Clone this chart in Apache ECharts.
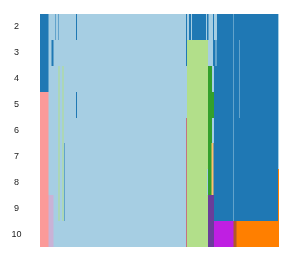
<!DOCTYPE html>
<html><head><meta charset="utf-8">
<script src="https://cdn.jsdelivr.net/npm/echarts@6/dist/echarts.min.js"></script>
<style>html,body{margin:0;padding:0;background:#fff}#c{width:300px;height:264px}</style>
</head><body><div id="c"></div>
<script>
// k values (rows) and number of ordered samples (columns)
const kLabels = ['2','3','4','5','6','7','8','9','10'];
const nSamples = 478;

// each row: consecutive runs of [class, endSample] (start = previous end)
const row2 = [[2,17],[1,31],[2,32],[1,36],[2,37],[1,72],[2,74],[1,292],[2,294],[1,298],[2,302],[1,304],[2,332],[1,334],[2,337],[1,346],[2,348],[1,354],[2,386],[1,387],[2,476],[1,478]];
const row3 = [[2,17],[1,23],[2,27],[1,292],[2,294],[3,336],[1,346],[2,351],[1,353],[2,386],[1,387],[2,398],[1,399],[2,476],[1,478]];
const row4 = [[2,17],[1,37],[3,39],[1,45],[3,47],[1,294],[3,336],[4,344],[1,348],[2,386],[1,387],[2,398],[1,399],[2,476],[1,478]];
const row5 = [[5,17],[1,37],[3,39],[1,45],[3,47],[1,72],[2,74],[1,294],[3,336],[4,348],[2,386],[1,387],[2,398],[1,399],[2,476],[1,478]];
const row6 = [[5,17],[1,37],[3,39],[1,45],[3,47],[1,292],[6,293],[1,294],[3,336],[4,344],[1,348],[2,386],[1,387],[2,476],[1,478]];
const row7 = [[5,17],[1,37],[3,39],[1,45],[3,47],[1,48],[2,49],[1,292],[6,293],[1,294],[3,336],[4,343],[7,347],[2,386],[1,387],[2,476],[1,478]];
const row8 = [[5,17],[1,37],[3,39],[1,45],[3,47],[1,48],[2,49],[1,292],[6,293],[1,294],[3,334],[1,336],[4,343],[7,347],[2,386],[1,387],[2,476],[8,478]];
const row9 = [[5,17],[9,27],[1,37],[3,39],[1,45],[3,47],[1,48],[2,49],[1,292],[6,293],[1,294],[3,336],[10,348],[2,386],[1,387],[2,476],[8,478]];
const row10 = [[5,17],[9,27],[1,292],[6,293],[1,294],[3,336],[10,348],[11,387],[12,393],[8,478]];
const rows = [row2,row3,row4,row5,row6,row7,row8,row9,row10];

// styles
const classColors = {
  1:'#a6cee3', 2:'#1f78b4', 3:'#b2df8a', 4:'#33a02c', 5:'#fb9a99', 6:'#e31a1c',
  7:'#fdbf6f', 8:'#ff7f00', 9:'#cab2d6', 10:'#6a3d9a', 11:'#bf1fe2', 12:'#b15928'
};

const data = [];
rows.forEach((row, r) => {
  let prev = 0;
  row.forEach(([cls, end]) => { data.push([prev, r, end, cls]); prev = end; });
});

const chart = echarts.init(document.getElementById('c'), null, {renderer:'canvas'});
chart.setOption({
  animation: false,
  grid: {left: 40, right: 21, top: 14, bottom: 17},
  xAxis: {type:'value', min:0, max:nSamples, show:false},
  yAxis: {
    type:'category', data:kLabels, inverse:true,
    axisLine:{show:false}, axisTick:{show:false}, splitLine:{show:false},
    axisLabel:{align:'center', margin:23.5, fontSize:9, color:'#222', fontFamily:'Liberation Sans'}
  },
  series: [{
    type:'custom',
    clip: true,
    encode: {x:[0,2], y:1},
    data: data,
    renderItem: function (params, api) {
      const y = api.value(1);
      const p0 = api.coord([api.value(0), y]);
      // each run is painted up to the row end; later runs cover it (no seams)
      const pEnd = api.coord([nSamples, y]);
      const h = api.size([0, 1])[1];
      const y0 = Math.round(p0[1] - h / 2), y1 = Math.round(p0[1] + h / 2);
      return {type:'rect', shape:{x:p0[0], y:y0, width:pEnd[0]-p0[0], height:y1-y0},
              style:{fill: classColors[api.value(3)]}};
    }
  }]
});
</script></body></html>
